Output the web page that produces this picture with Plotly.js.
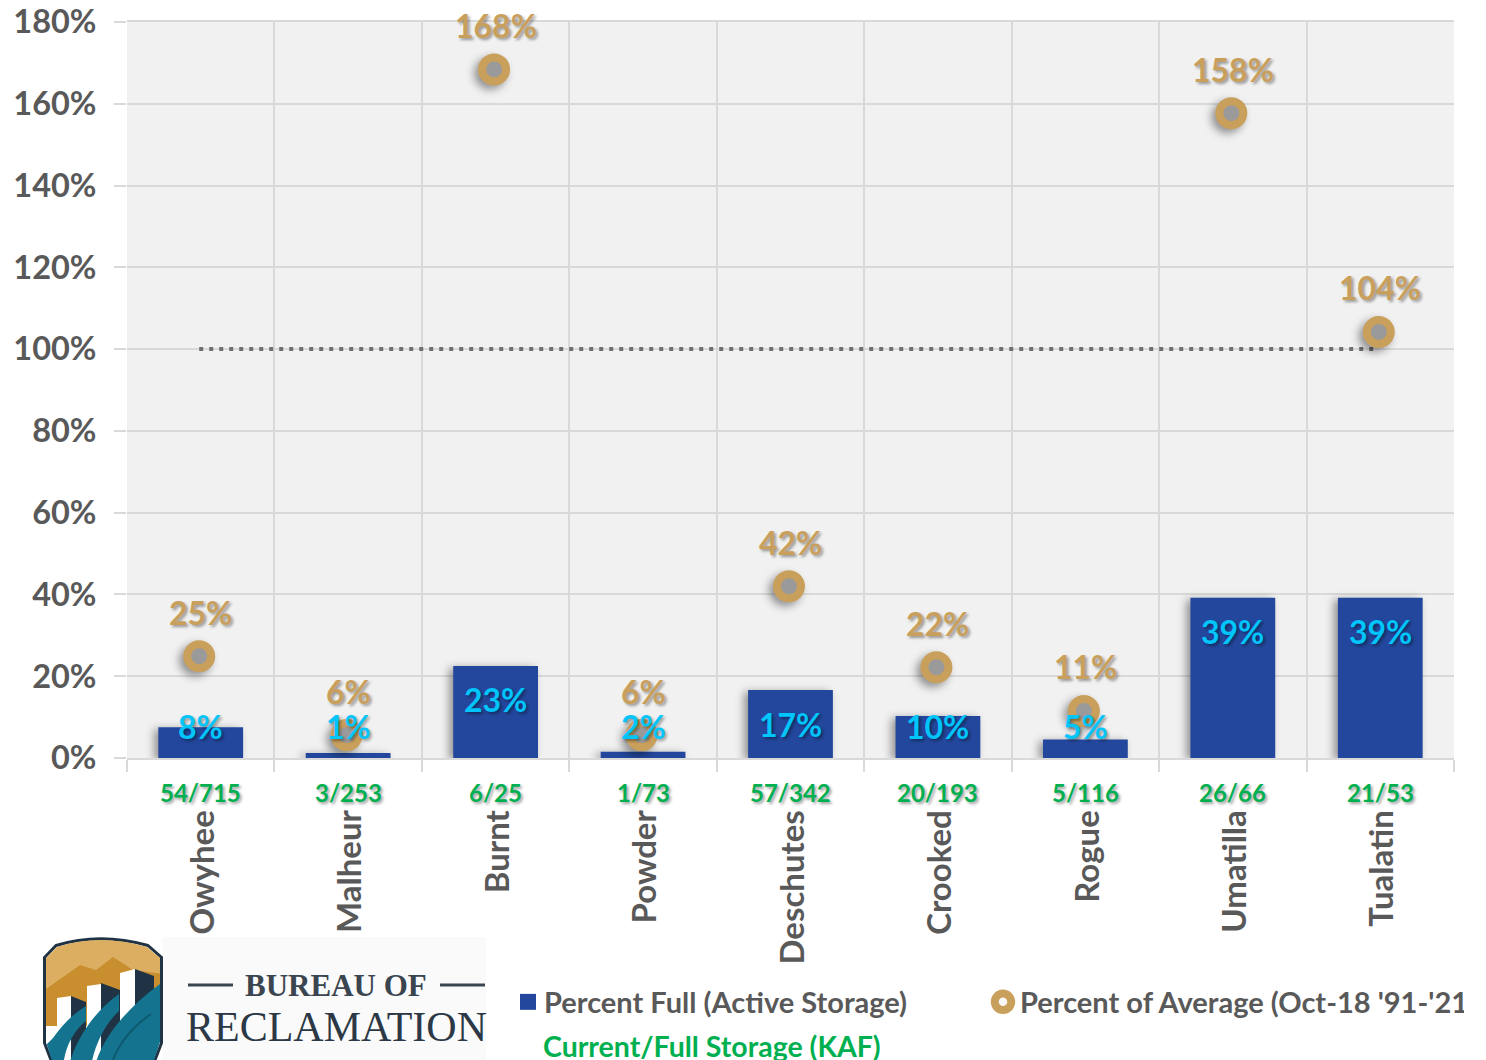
<!DOCTYPE html>
<html>
<head>
<meta charset="utf-8">
<script src="https://cdn.plot.ly/plotly-3.0.1.min.js"></script>
<style>html,body{margin:0;padding:0;background:#fff}#chart{width:1486px;height:1060px}</style>
</head>
<body>
<div id="chart"></div>
<script>
const basins = ["Owyhee","Malheur","Burnt","Powder","Deschutes","Crooked","Rogue","Umatilla","Tualatin"];
const percentFull = [7.5,1.2,22.5,1.5,16.6,10.3,4.5,39.2,39.2];
const percentFullLabels = ["8%","1%","23%","2%","17%","10%","5%","39%","39%"];
const percentOfAverage = [24.9,5.6,168.4,5.6,42,22.2,11.5,157.7,104.2];
const percentOfAverageLabels = ["25%","6%","168%","6%","42%","22%","11%","158%","104%"];
const storageLabels = ["54/715","3/253","6/25","1/73","57/342","20/193","5/116","26/66","21/53"];
const averageLine = [100,100,100,100,100,100,100,100,100];
const yTicks = [0,20,40,60,80,100,120,140,160,180];

const L=127,R=1454,T=22,B=758,FONT="Lato, Carlito, sans-serif";
const px=x=>(x-L)/(R-L), py=y=>(B-y)/(B-T);
const SHADOW="2px 2px 3px rgba(0,0,0,0.38)";
const shift=1.5/((R-L)/9);

const logo=`<svg xmlns="http://www.w3.org/2000/svg" width="120" height="124" viewBox="0 0 120 124">
<defs><clipPath id="c"><path d="M3 22L14 11Q57 -3 104 11L117 22V106L111 124H9L3 106Z"/></clipPath></defs>
<path d="M1.5 21.5L13 9.5Q57 -4 105 9.5L118.5 21.5V107L112 124H8L1.5 107Z" fill="#fff" stroke="#1f3344" stroke-width="3"/>
<g clip-path="url(#c)">
<rect x="0" y="0" width="120" height="70" fill="#dcae62"/>
<path d="M0 55L37 29L53 34L70 21L90 34L120 38V90H0Z" fill="#c98f2f"/>
<path d="M14 62L28 60V130H14ZM44 50L58 48V130H44ZM77 37L92 33V130H77Z" fill="#fff"/>
<path d="M28 60L43 66V130H28ZM58 47L77 54V130H58ZM92 33L111 40V130H92Z" fill="#1f3344"/>
<path d="M10 102C20 88 30 78 43 70L43 85C30 95 22 112 20 130H0V112Z" fill="#14748f"/>
<path d="M26 130C30 112 45 80 76 58L76 75C62 88 52 108 48 130Z" fill="#14748f"/>
<path d="M52 130C58 105 80 75 117 48V130Z" fill="#14748f"/>
<path d="M70 124C76 108 88 92 108 78" stroke="#0d5a70" stroke-width="2" fill="none"/>
</g></svg>`;
const logoUri="data:image/svg+xml;base64,"+btoa(logo);

const traces=[
 {type:"bar",name:"Percent Full (Active Storage)",x:basins,y:percentFull,width:0.575,
  marker:{color:"#23479c"},hoverinfo:"skip"},
 {type:"scatter",mode:"lines",x:basins,y:averageLine,xaxis:"x2",showlegend:false,
  line:{color:"#6f6f6f",width:4,dash:"4px,6px"},hoverinfo:"skip"},
 {type:"scatter",mode:"markers",name:"Percent of Average (Oct-18 '91-'21)",x:basins,y:percentOfAverage,xaxis:"x2",
  marker:{size:24,color:"#9a9a9a",line:{color:"#c99f5c",width:8}},hoverinfo:"skip"}
];

const annotations=[];
basins.forEach((b,i)=>{
 annotations.push({x:b,y:Math.max(percentFull[i]-8.3,7.8),xref:"x",yref:"y",text:percentFullLabels[i],showarrow:false,
   yanchor:"middle",font:{family:FONT,size:32,weight:700,color:"#00c5fb",shadow:SHADOW}});
 annotations.push({x:b,y:percentOfAverage[i],xref:"x",yref:"y",yshift:44,text:percentOfAverageLabels[i],showarrow:false,
   yanchor:"middle",font:{family:FONT,size:32,weight:700,color:"#c99f5c",shadow:SHADOW}});
 annotations.push({x:b,y:py(792),xref:"x",yref:"paper",text:storageLabels[i],showarrow:false,
   yanchor:"middle",font:{family:FONT,size:24,weight:700,color:"#00b050",shadow:SHADOW}});
});
annotations.push({x:px(541),y:py(1046),xref:"paper",yref:"paper",xanchor:"left",yanchor:"middle",showarrow:false,
  text:"Current/Full Storage (KAF)",font:{family:FONT,size:28.5,weight:700,color:"#00b050"}});
annotations.push({x:px(336),y:py(985),xref:"paper",yref:"paper",xanchor:"center",yanchor:"middle",showarrow:false,
  text:"BUREAU OF",font:{family:"Liberation Serif, serif",size:31,weight:700,color:"#3a4550"}});
annotations.push({x:px(336),y:py(1027),xref:"paper",yref:"paper",xanchor:"center",yanchor:"middle",showarrow:false,
  text:"RECLAMATION",font:{family:"Liberation Serif, serif",size:42,color:"#2c3845"}});

const layout={
 width:1486,height:1060,margin:{l:L,r:1486-R,t:T,b:1060-B,pad:0,autoexpand:false},
 paper_bgcolor:"#ffffff",plot_bgcolor:"#f1f1f1",showlegend:true,
 bargap:0.425,
 font:{family:FONT,color:"#595959"},
 xaxis:{type:"category",categoryorder:"array",categoryarray:basins,tickson:"boundaries",range:[-0.5,8.5],
   showgrid:true,gridcolor:"#d9d9d9",gridwidth:2,ticks:"outside",ticklen:12,tickwidth:2,tickcolor:"#d9d9d9",
   tickangle:-90,ticklabelstandoff:37,tickfont:{family:FONT,size:33,weight:700,color:"#595959"},
   showline:true,mirror:true,linecolor:"#d9d9d9",linewidth:2,zeroline:false},
 xaxis2:{type:"category",categoryorder:"array",categoryarray:basins,overlaying:"x",visible:false,
   range:[-0.5+shift,8.5+shift]},
 yaxis:{range:[0,180],tickvals:yTicks,ticktext:yTicks.map(v=>v+"%"),showgrid:true,gridcolor:"#d9d9d9",gridwidth:2,
   ticks:"outside",ticklen:12,tickwidth:2,tickcolor:"#d9d9d9",ticklabelstandoff:11,
   tickfont:{family:FONT,size:32.5,weight:700,color:"#595959"},zeroline:false},
 legend:{orientation:"h",x:px(504),y:py(1002),xanchor:"left",yanchor:"middle",entrywidth:431,entrywidthmode:"pixels",
   bgcolor:"rgba(0,0,0,0)",itemclick:false,itemdoubleclick:false,traceorder:"normal",
   font:{family:FONT,size:29,weight:700,color:"#595959"}},
 annotations:annotations,
 images:[
  {source:logoUri,xref:"paper",yref:"paper",x:px(43),y:py(936),sizex:120/(R-L),sizey:124/(B-T),sizing:"stretch",xanchor:"left",yanchor:"top",layer:"above"}
 ],
 shapes:[
  {type:"rect",xref:"paper",yref:"paper",x0:px(163),x1:px(486),y0:py(1060),y1:py(937),fillcolor:"#fafafa",line:{width:0},layer:"below"},
  {type:"line",xref:"paper",yref:"paper",x0:px(188),x1:px(233),y0:py(985),y1:py(985),line:{color:"#3a4550",width:3}},
  {type:"line",xref:"paper",yref:"paper",x0:px(440),x1:px(485),y0:py(985),y1:py(985),line:{color:"#3a4550",width:3}}
 ]
};

Plotly.newPlot("chart",traces,layout,{staticPlot:true,displayModeBar:false}).then(gd=>{
 gd.querySelectorAll(".barlayer .point path").forEach(p=>p.style.filter="drop-shadow(-4px 2px 4px rgba(0,0,0,0.4))");
 gd.querySelectorAll(".scatterlayer .points path").forEach(p=>p.style.filter="drop-shadow(-4px 4px 4px rgba(0,0,0,0.4))");
 gd.querySelectorAll("g.xtick").forEach(t=>t.setAttribute("transform","translate(2.5,0)"));
 const tx=p=>{const m=/translate\(([-\d.]+)/.exec(p.getAttribute("transform")||"");return m?+m[1]:15;};
 const entries=gd.querySelectorAll(".legend .traces");
 const sq=entries[0]&&entries[0].querySelector(".legendpoints path");
 if(sq){
   sq.style.transform="translate("+(tx(sq)+4)+"px,0) scale(1.33)";
 }
 const ring=gd.querySelector(".legend .scatterpts");
 if(ring){
   const k=16.5/ring.getBBox().width;
   ring.setAttribute("transform",`translate(${tx(ring)+3},0) scale(${k})`);
   ring.style.fill="#f7f7f7";ring.style.strokeWidth=(8/k)+"px";ring.style.stroke="#c99f5c";
 }
 const scroll=gd.querySelector(".legend .scrollbox");
 if(scroll){scroll.removeAttribute("clip-path");scroll.style.clipPath="none";}
 const second=gd.querySelectorAll(".legend .legendtext")[1];
 if(second){
   const over=second.getBoundingClientRect().right-1464;
   if(over>0) second.style.clipPath=`inset(0 ${over}px 0 0)`;
 }
});
</script>
</body>
</html>
